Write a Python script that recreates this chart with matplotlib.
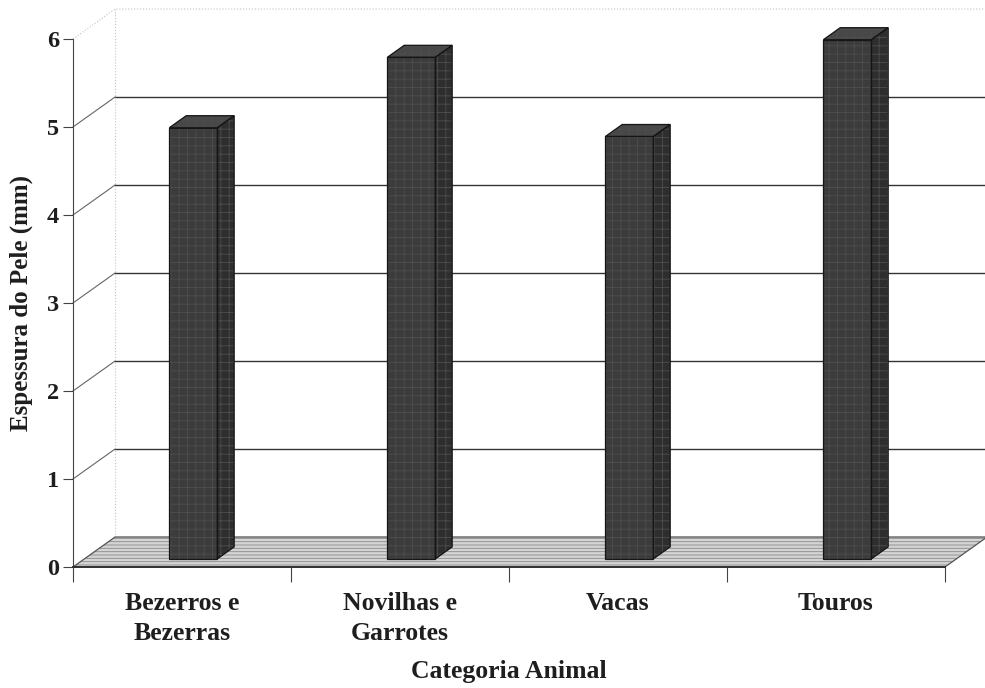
import matplotlib
matplotlib.use('Agg')
from matplotlib import pyplot as plt
from matplotlib.patches import Polygon

plt.rcParams['font.family'] = ['Liberation Serif', 'DejaVu Serif']
plt.rcParams['font.weight'] = 'bold'
plt.rcParams['axes.labelweight'] = 'bold'
plt.rcParams['hatch.linewidth'] = 0.6

categorias = ['Bezerros e\nBezerras', 'Novilhas e\nGarrotes', 'Vacas', 'Touros']
espessura = [4.9, 5.7, 4.8, 5.9]
y_ticks = [0, 1, 2, 3, 4, 5, 6]

# depth of the fake 3d box, in data units (x: categories, y: mm)
DX, DY = 0.193, 0.341
bar_w = 0.22
t0, t1 = 0.27, 0.67   # bar position inside the depth

fig = plt.figure(figsize=(9.85, 6.88), dpi=100)
ax = fig.add_axes([73 / 985, 121 / 688, 872 / 985, 528 / 688])
ax.set_xlim(0, len(categorias))
ax.set_ylim(0, 6)

ink = '#1e1e1e'

# back wall: gridlines with their slanted side-wall part
for v in y_ticks[1:]:
    if v == 6:
        ax.plot([0, DX, len(categorias) + DX], [v, v + DY, v + DY], color='#c4c4c4',
                lw=0.8, ls=':', clip_on=False, zorder=1)
        continue
    ax.plot([0, DX], [v, v + DY], color='#666666', lw=0.8, clip_on=False, zorder=1)
    ax.plot([DX, len(categorias) + DX], [v + DY, v + DY], color='#333333', lw=1.0,
            clip_on=False, zorder=1)
ax.plot([DX, DX], [DY, 6 + DY], color='#c4c4c4', lw=0.8, ls=':', clip_on=False, zorder=1)

# floor
n = len(categorias)
floor = [(0, 0), (n, 0), (n + DX, DY), (DX, DY)]
ax.add_patch(Polygon(floor, closed=True, facecolor='#d4d4d4', edgecolor='none',
                     clip_on=False, zorder=2))
ax.add_patch(Polygon(floor, closed=True, fill=False, edgecolor='#8a8a8a', hatch='-----',
                     lw=0, clip_on=False, zorder=2))
ax.add_patch(Polygon(floor, closed=True, fill=False, edgecolor='#555555', lw=0.9,
                     clip_on=False, zorder=2))

# bars
ddx, ddy = (t1 - t0) * DX, (t1 - t0) * DY
for i, v in enumerate(espessura):
    c = i + 0.5
    x0 = c - bar_w / 2 + t0 * DX
    x1 = x0 + bar_w
    y0 = t0 * DY
    y1 = v + t0 * DY
    faces = [
        ([(x0, y0), (x1, y0), (x1, y1), (x0, y1)], '#3c3c3c'),
        ([(x1, y0), (x1 + ddx, y0 + ddy), (x1 + ddx, y1 + ddy), (x1, y1)], '#2e2e2e'),
        ([(x0, y1), (x1, y1), (x1 + ddx, y1 + ddy), (x0 + ddx, y1 + ddy)], '#484848'),
    ]
    for pts, col in faces:
        ax.add_patch(Polygon(pts, closed=True, facecolor=col, edgecolor='none',
                             clip_on=False, zorder=3))
        ax.add_patch(Polygon(pts, closed=True, fill=False, edgecolor='#4e4e4e', hatch='++',
                             lw=0, clip_on=False, zorder=3))
        ax.add_patch(Polygon(pts, closed=True, fill=False, edgecolor='#151515', lw=0.9,
                             clip_on=False, zorder=4))

# axes
for s in ['top', 'right']:
    ax.spines[s].set_visible(False)
ax.spines['left'].set_color('#444444')
ax.spines['bottom'].set_color('#333333')
ax.spines['bottom'].set_linewidth(1.4)
ax.set_yticks(y_ticks)
ax.set_yticklabels([str(t) for t in y_ticks], fontsize=17.5, color=ink)
ax.tick_params(axis='y', length=7, width=0.8, color='#444444', pad=3)
ax.set_xticks(range(n + 1), labels=[''] * (n + 1))
ax.tick_params(axis='x', which='major', length=11, width=0.8, color='#444444')
ax.set_xticks([i + 0.5 for i in range(n)], labels=categorias, minor=True)
ax.tick_params(axis='x', which='minor', length=0, pad=18, labelsize=18.5, labelcolor=ink)
for lab in ax.get_xticklabels(minor=True):
    lab.set_linespacing(1.38)
ax.set_facecolor('none')

ax.set_ylabel('Espessura do Pele (mm)', fontsize=18, color=ink, labelpad=10)
ax.set_xlabel('Categoria Animal', fontsize=18.5, color=ink, labelpad=11)

fig.savefig('out.png', dpi=100)
